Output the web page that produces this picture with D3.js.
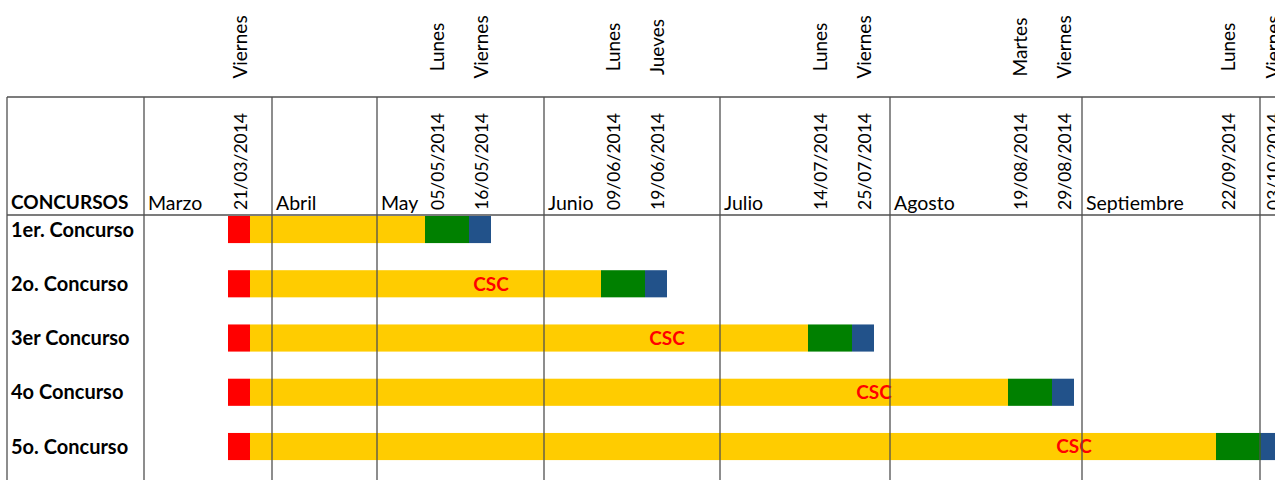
<!DOCTYPE html>
<html>
<head>
<meta charset="utf-8">
<script src="https://cdn.jsdelivr.net/npm/d3@7"></script>
<style>
  body { margin: 0; background: #fff; }
  text { font-family: Lato, "Open Sans", sans-serif; fill: #000; }
</style>
</head>
<body>
<div id="chart"></div>
<script>
// Datos del calendario de concursos
const concursos = ['1er. Concurso', '2o. Concurso', '3er Concurso', '4o Concurso', '5o. Concurso'];
const inicio = ['21/03/2014', '21/03/2014', '21/03/2014', '21/03/2014', '21/03/2014'];
const evaluacion = ['05/05/2014', '09/06/2014', '14/07/2014', '19/08/2014', '22/09/2014'];
const resultado = ['16/05/2014', '19/06/2014', '25/07/2014', '29/08/2014', '03/10/2014'];

// Cabecera: meses y fechas clave
const meses = ['Marzo', 'Abril', 'May', 'Junio', 'Julio', 'Agosto', 'Septiembre'];
const inicioMes = ['01/03/2014', '01/04/2014', '01/05/2014', '01/06/2014', '01/07/2014', '01/08/2014', '01/09/2014', '01/10/2014'];
const fechasCabecera = ['21/03/2014', '05/05/2014', '16/05/2014', '09/06/2014', '19/06/2014', '14/07/2014',
  '25/07/2014', '19/08/2014', '29/08/2014', '22/09/2014', '03/10/2014'];
const diasCabecera = ['Viernes', 'Lunes', 'Viernes', 'Lunes', 'Jueves', 'Lunes', 'Viernes', 'Martes', 'Viernes', 'Lunes', 'Viernes'];

const parse = d3.timeParse('%d/%m/%Y');

// La hoja de cálculo tiene columnas de ancho desigual: escala por tramos
const cortes = [...inicioMes, ...fechasCabecera].map(parse).sort((a, b) => a - b);
const bordes = [144, 228, 272, 377, 425, 469, 544, 601, 645, 720, 808, 852, 890, 1008, 1052, 1082, 1216, 1260, 1261];

const width = 1275, height = 480;
const celda = 22;          // media columna de fecha
const tablaTop = 97, cabeceraBottom = 215, tablaLeft = 7;

const svg = d3.select('#chart')
  .append('svg')
  .attr('width', width)
  .attr('height', height);

const x = d3.scaleTime().domain(cortes).range(bordes);
const y = d3.scaleBand()
  .domain(concursos)
  .range([202.4, 473.65])
  .paddingInner(0.5)
  .paddingOuter(0.25);

// Construye los tramos de cada barra
const tramos = [];
concursos.forEach((c, i) => {
  const a = x(parse(inicio[i])), e = x(parse(evaluacion[i])), r = x(parse(resultado[i]));
  tramos.push({ c, x0: a, x1: a + celda, color: '#ff0000' });
  tramos.push({ c, x0: a + celda, x1: e, color: '#ffcc00' });
  tramos.push({ c, x0: e, x1: r, color: '#008000' });
  tramos.push({ c, x0: r, x1: r + celda, color: '#22528a' });
});

svg.selectAll('.tramo')
  .data(tramos)
  .enter()
  .append('rect')
  .attr('class', 'tramo')
  .attr('x', d => d.x0)
  .attr('y', d => y(d.c))
  .attr('width', d => d.x1 - d.x0)
  .attr('height', y.bandwidth())
  .attr('fill', d => d.color);

// Etiqueta CSC: centrada en la columna del resultado del concurso anterior
svg.selectAll('.csc')
  .data(concursos.slice(1))
  .enter()
  .append('text')
  .attr('class', 'csc')
  .attr('x', (d, i) => x(parse(resultado[i])) + celda)
  .attr('y', d => y(d) + y.bandwidth() / 2)
  .attr('dy', '0.36em')
  .attr('text-anchor', 'middle')
  .style('font-size', '19px')
  .style('font-weight', 'bold')
  .style('fill', '#ff0000')
  .text('CSC');

// Líneas de la tabla
const grid = svg.append('g')
  .attr('stroke', '#505050')
  .attr('stroke-width', 1.3);

grid.append('line').attr('x1', tablaLeft).attr('x2', width).attr('y1', tablaTop).attr('y2', tablaTop);
grid.append('line').attr('x1', tablaLeft).attr('x2', width).attr('y1', cabeceraBottom).attr('y2', cabeceraBottom);
grid.append('line').attr('x1', tablaLeft).attr('x2', tablaLeft).attr('y1', tablaTop).attr('y2', height);

grid.selectAll('.mes-linea')
  .data(inicioMes)
  .enter()
  .append('line')
  .attr('x1', d => x(parse(d)))
  .attr('x2', d => x(parse(d)))
  .attr('y1', tablaTop)
  .attr('y2', height);

// Nombres de mes
svg.selectAll('.mes')
  .data(meses)
  .enter()
  .append('text')
  .attr('x', (d, i) => x(parse(inicioMes[i])) + 4)
  .attr('y', 210)
  .style('font-size', '19.5px')
  .text(d => d);

// Fechas giradas
svg.selectAll('.fecha')
  .data(fechasCabecera)
  .enter()
  .append('text')
  .attr('transform', d => `translate(${x(parse(d)) + 19},210) rotate(-90)`)
  .style('font-size', '17.5px')
  .text(d => d);

// Días de la semana
svg.selectAll('.dia')
  .data(diasCabecera)
  .enter()
  .append('text')
  .attr('transform', (d, i) => `translate(${x(parse(fechasCabecera[i])) + 19},47) rotate(-90)`)
  .attr('text-anchor', 'middle')
  .style('font-size', '19px')
  .text(d => d);

// Columna de concursos
svg.append('text')
  .attr('x', 11)
  .attr('y', 209)
  .style('font-size', '19px')
  .style('font-weight', 'bold')
  .text('CONCURSOS');

svg.selectAll('.concurso')
  .data(concursos)
  .enter()
  .append('text')
  .attr('x', 11)
  .attr('y', d => y(d) + y.bandwidth() / 2)
  .attr('dy', '0.36em')
  .style('font-size', '20px')
  .style('font-weight', 'bold')
  .text(d => d);
</script>
</body>
</html>
